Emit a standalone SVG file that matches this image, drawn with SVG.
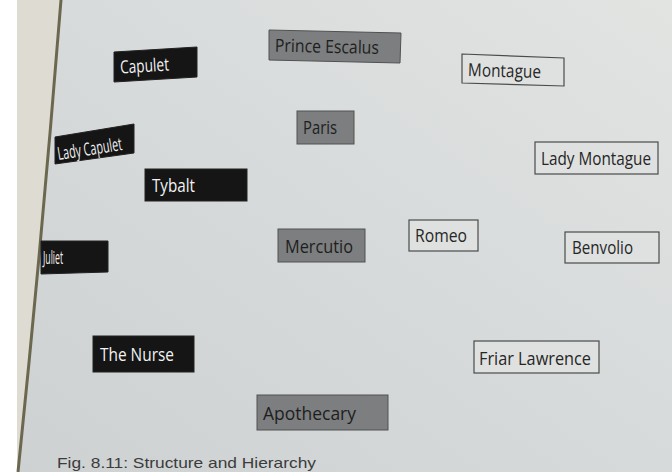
<svg xmlns="http://www.w3.org/2000/svg" width="672" height="472" viewBox="0 0 672 472">
  <defs>
    <linearGradient id="page" x1="1" y1="0" x2="0" y2="1">
      <stop offset="0" stop-color="#e2e4e2"/>
      <stop offset="0.5" stop-color="#d7dadb"/>
      <stop offset="1" stop-color="#cdd1d1"/>
    </linearGradient>
    <style>
      .lbl { font-family: "Open Sans", "Noto Sans", sans-serif; font-size: 18px; }
      .dark rect, .dark polygon { fill: #151515; stroke: #222; stroke-width: 1; }
      .dark text { fill: #f2f2f2; }
      .grey rect, .grey polygon { fill: #7c7e7f; stroke: #505252; stroke-width: 1; }
      .grey text { fill: #1e1e1e; }
      .light rect, .light polygon { fill: #dfe1e0; stroke: #4a4c4c; stroke-width: 1.2; }
      .light text { fill: #262626; }
      .cap { font-family: "Liberation Sans", Arial, sans-serif; font-size: 15px; fill: #3c3c3c; }
    </style>
  </defs>

  <!-- background: photo of page -->
  <rect x="0" y="0" width="672" height="472" fill="url(#page)"/>
  <path d="M0,0 H61 Q42,240 18,472 H0 Z" fill="#dedcd2"/>
  <rect x="0" y="0" width="17" height="472" fill="#ffffff"/>
  <path d="M61,0 Q42,240 18,472" fill="none" stroke="#6c6850" stroke-width="3"/>

  <g id="nodes">
    <g id="capulet" class="dark">
      <polygon points="114,52 197,47 197,77 114,82"/>
      <text class="lbl" x="120" y="72" textLength="49" lengthAdjust="spacingAndGlyphs" transform="rotate(-3.5 145 66)">Capulet</text>
    </g>
    <g id="lady-capulet" class="dark">
      <polygon points="55,137 134,124 134,153 55,164"/>
      <text class="lbl" x="57" y="155" font-size="16" textLength="65" lengthAdjust="spacingAndGlyphs" transform="rotate(-9 90 148)">Lady Capulet</text>
    </g>
    <g id="tybalt" class="dark">
      <rect x="145" y="169" width="102" height="32"/>
      <text class="lbl" x="152" y="192" textLength="43" lengthAdjust="spacingAndGlyphs">Tybalt</text>
    </g>
    <g id="juliet" class="dark">
      <polygon points="41,241 108,241 108,272 41,274"/>
      <text class="lbl" x="43" y="264" font-size="14" textLength="20" lengthAdjust="spacingAndGlyphs">Juliet</text>
    </g>
    <g id="the-nurse" class="dark">
      <rect x="93" y="336" width="101" height="36"/>
      <text class="lbl" x="100" y="361" textLength="74" lengthAdjust="spacingAndGlyphs">The Nurse</text>
    </g>

    <g id="prince-escalus" class="grey">
      <polygon points="269,30 401,33 400,63 269,60"/>
      <text class="lbl" x="275" y="53" textLength="104" lengthAdjust="spacingAndGlyphs" transform="rotate(1.3 335 46)">Prince Escalus</text>
    </g>
    <g id="paris" class="grey">
      <rect x="297" y="111" width="57" height="33"/>
      <text class="lbl" x="303" y="134" textLength="34" lengthAdjust="spacingAndGlyphs">Paris</text>
    </g>
    <g id="mercutio" class="grey">
      <rect x="278" y="229" width="87" height="33"/>
      <text class="lbl" x="285" y="253" textLength="68" lengthAdjust="spacingAndGlyphs">Mercutio</text>
    </g>
    <g id="apothecary" class="grey">
      <rect x="257" y="395" width="131" height="35"/>
      <text class="lbl" x="263" y="420" textLength="93" lengthAdjust="spacingAndGlyphs">Apothecary</text>
    </g>

    <g id="montague" class="light">
      <polygon points="462,54 564,58 564,86 462,83"/>
      <text class="lbl" x="468" y="77" textLength="73" lengthAdjust="spacingAndGlyphs" transform="rotate(1.5 505 70)">Montague</text>
    </g>
    <g id="lady-montague" class="light">
      <rect x="535" y="142" width="123" height="32"/>
      <text class="lbl" x="541" y="165" textLength="110" lengthAdjust="spacingAndGlyphs">Lady Montague</text>
    </g>
    <g id="romeo" class="light">
      <rect x="409" y="220" width="69" height="31"/>
      <text class="lbl" x="415" y="242" textLength="52" lengthAdjust="spacingAndGlyphs">Romeo</text>
    </g>
    <g id="benvolio" class="light">
      <rect x="565" y="232" width="94" height="31"/>
      <text class="lbl" x="572" y="254" textLength="61" lengthAdjust="spacingAndGlyphs">Benvolio</text>
    </g>
    <g id="friar-lawrence" class="light">
      <rect x="474" y="341" width="125" height="32"/>
      <text class="lbl" x="479" y="365" textLength="112" lengthAdjust="spacingAndGlyphs">Friar Lawrence</text>
    </g>
  </g>

  <g id="connectors"/>

  <text class="cap" x="57" y="468" textLength="259" lengthAdjust="spacingAndGlyphs">Fig. 8.11: Structure and Hierarchy</text>
</svg>
